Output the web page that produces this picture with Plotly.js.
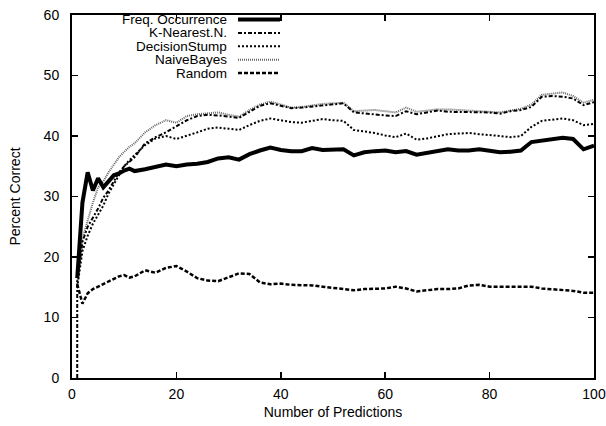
<!DOCTYPE html>
<html>
<head>
<meta charset="utf-8">
<script src="https://cdn.plot.ly/plotly-3.0.1.min.js"></script>
<style>html,body{margin:0;padding:0;background:#fff;}#chart{width:606px;height:426px;}</style>
</head>
<body>
<div id="chart"></div>
<script>
// Number of predictions (first x repeated so K-NN can start with a vertical rise from 0)
var xPred = [1,1,2,3,4,5,6,7,8,9,10,11,12,
  14,16,18,20,22,24,26,28,30,32,
  34,36,38,40,42,44,46,48,50,52,
  54,56,58,60,62,64,66,68,70,72,
  74,76,78,80,82,84,86,88,90,92,
  94,96,98,100];

var freqOcc = [null,16.5,29,34,31,33,31.5,32.5,33.5,33.8,34.3,34.6,34.2,
  34.5,34.9,35.3,35,35.3,35.4,35.7,36.3,36.5,36.1,
  37,37.6,38.1,37.7,37.5,37.5,38,37.7,37.7,37.8,
  36.8,37.3,37.5,37.6,37.3,37.5,36.9,37.2,37.6,37.8,
  37.6,37.6,37.8,37.5,37.3,37.4,37.6,39,39.2,39.4,
  39.7,39.5,37.8,38.4];

var kNearest = [0,16,22.5,25,26.5,28,29.8,31,32.5,34,35,35.8,36.5,
  38.8,39.8,40.6,41.6,42.6,43.3,43.5,43.4,43.2,43,
  44,45,45.4,45,44.6,44.7,44.9,45,45.2,45.4,
  43.9,43.7,43.6,43.4,43.3,44.1,43.6,43.9,44.2,44,
  44,44,44,43.9,43.7,44.1,44.3,44.8,46.5,46.6,
  46.5,46.2,45.1,45.6];

var decisionStump = [null,15,21,23.5,25.5,27,28.5,30.5,32,33.5,35,36,36.8,
  38.5,39.6,40,39.5,40,40.6,41.2,41.4,41.2,41,
  41.8,42.5,42.9,42.6,42.3,42.2,42.5,42.8,42.6,42.5,
  41,40.8,40.5,40.1,39.8,40.4,39.4,39.6,40,40.3,
  40.4,40.5,40.3,40.2,40,39.8,40,41.5,42.5,42.7,
  42.9,42.6,41.8,42];

var naiveBayes = [null,15.5,23,26,29,31.5,32.5,34,35.3,36.5,37.4,38.2,38.8,
  40.6,41.8,42.6,42.2,43.3,43.6,43.8,43.9,43.5,43.2,
  44.3,45.2,45.7,45.2,44.7,44.8,45.1,45.3,45.4,45.5,
  44.1,44.2,44.3,44.1,43.9,44.7,44,44.2,44.4,44.4,
  44.3,44.2,44,43.9,43.9,44.2,44.5,45.2,46.8,47,
  47.2,46.6,45.5,46];

var randomPick = [null,15.5,12.3,14,14.7,15.1,15.5,15.9,16.3,16.8,17,16.6,16.8,
  17.8,17.4,18.2,18.5,17.6,16.5,16.1,16,16.6,17.3,
  17.2,15.8,15.5,15.6,15.4,15.4,15.3,15.1,14.9,14.6,
  14.5,14.7,14.8,14.8,15.1,14.8,14.3,14.5,14.7,14.7,
  14.8,15.3,15.4,15.1,15.1,15.1,15.1,15.1,14.8,14.7,
  14.5,14.4,14.1,14.1];

var seriesNames = ["Freq. Occurrence","K-Nearest.N.","DecisionStump","NaiveBayes","Random"];
var xTicks = [0,20,40,60,80,100];
var yTicks = [0,10,20,30,40,50,60];

var styles = {
  "Freq. Occurrence": {color:"#000", width:4, dash:"solid"},
  "K-Nearest.N.": {color:"#000", width:2, dash:"4px,2px,2px,2px"},
  "DecisionStump": {color:"#000", width:2, dash:"2px,2px"},
  "NaiveBayes": {color:"#666", width:2, dash:"1px,1px"},
  "Random": {color:"#000", width:2.5, dash:"4px,2px"}
};
var seriesData = {
  "Freq. Occurrence": freqOcc,
  "K-Nearest.N.": kNearest,
  "DecisionStump": decisionStump,
  "NaiveBayes": naiveBayes,
  "Random": randomPick
};

var drawOrder = ["Random","NaiveBayes","DecisionStump","K-Nearest.N.","Freq. Occurrence"];
var traces = drawOrder.map(function(n){
  return {x:xPred, y:seriesData[n], type:"scatter", mode:"lines", name:n,
    line:{color:styles[n].color, width:styles[n].width, dash:styles[n].dash},
    connectgaps:false, hoverinfo:"skip", showlegend:false};
});

// gnuplot-style key: text right-aligned, sample line on the right
var W = 606, H = 426, mL = 72, mR = 12, mT = 15, mB = 48;
var pw = W - mL - mR, ph = H - mT - mB;
var fontF = "Liberation Sans, Arial, sans-serif";
var annotations = [], shapes = [];
seriesNames.forEach(function(n, i){
  var py = 19.5 + 13.4*i;
  var yp = (H - mB - py)/ph;
  annotations.push({xref:"paper", yref:"paper", x:(228-mL)/pw, y:yp, xanchor:"right", yanchor:"middle",
    text:n, showarrow:false, borderpad:0, font:{family:fontF, size:13.5, color:"#000"}});
  shapes.push({type:"line", xref:"paper", yref:"paper", x0:(238-mL)/pw, x1:(280-mL)/pw, y0:yp, y1:yp,
    line:{color:styles[n].color, width:styles[n].width, dash:styles[n].dash}});
});

var layout = {
  width:W, height:H,
  margin:{l:mL, r:mR, t:mT, b:mB, pad:0},
  paper_bgcolor:"#fff", plot_bgcolor:"#fff",
  font:{family:fontF, size:14, color:"#000"},
  xaxis:{range:[0,100], tickvals:xTicks, ticktext:xTicks.map(String), showgrid:false, zeroline:false,
    showline:true, mirror:"ticks", linecolor:"#000", linewidth:2, ticks:"inside", ticklen:6, tickwidth:1.5, tickcolor:"#000",
    ticklabelstandoff:2,
    title:{text:"Number of Predictions", font:{size:14}, standoff:6}, tickfont:{size:14}},
  yaxis:{range:[0,60], tickvals:yTicks, ticktext:yTicks.map(String), showgrid:false, zeroline:false,
    showline:true, mirror:"ticks", linecolor:"#000", linewidth:2, ticks:"inside", ticklen:6, tickwidth:1.5, tickcolor:"#000",
    ticklabelstandoff:8,
    title:{text:"Percent Correct", font:{size:14}, standoff:20}, tickfont:{size:14}},
  showlegend:false,
  annotations:annotations,
  shapes:shapes
};

Plotly.newPlot("chart", traces, layout, {staticPlot:true, displayModeBar:false});
</script>
</body>
</html>
